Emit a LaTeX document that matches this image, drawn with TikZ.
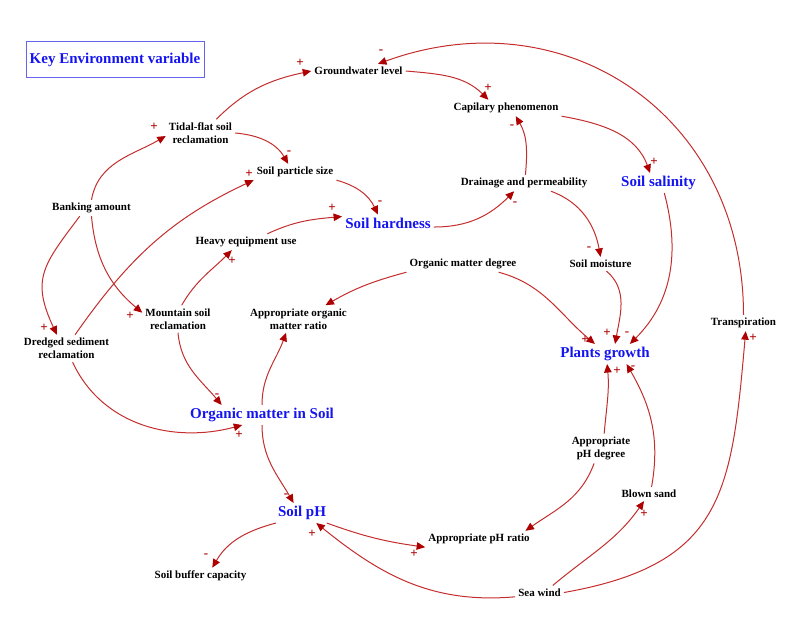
\documentclass[tikz,border=0pt]{standalone}
\usepackage{fontspec}
\setmainfont{Liberation Serif}
\usetikzlibrary{arrows.meta}
\definecolor{linered}{RGB}{196,45,45}
\definecolor{tipred}{RGB}{175,0,0}
\definecolor{keyblue}{RGB}{20,20,240}
\definecolor{boxblue}{RGB}{100,100,240}
\begin{document}
\begin{tikzpicture}[x=1pt,y=1pt,
  txt/.style={font=\fontsize{11}{13.4}\selectfont\bfseries, text=black, inner sep=3pt, align=center},
  kv/.style={font=\fontsize{15}{18}\selectfont\bfseries, text=keyblue, inner sep=3pt},
  cl/.style={draw=linered, line width=1pt, -{Triangle[length=8.5pt,width=7.5pt,color=tipred]}},
  sg/.style={font=\fontsize{13}{13}\selectfont\bfseries, text=tipred, inner sep=0pt}]
\useasboundingbox (0,0) rectangle (800,624);

% legend box
\node[kv, draw=boxblue, line width=1pt, minimum width=178pt, minimum height=36pt] (key) at (115,564) {Key Environment variable};

% variables
\node[txt] (gw) at (358.5,553) {Groundwater level};
\node[txt] (cap) at (506,516) {Capilary phenomenon};
\node[txt] (tf) at (200.5,491) {Tidal-flat soil\\reclamation};
\node[txt] (sps) at (295,452) {Soil particle size};
\node[kv] (hard) at (388,401) {Soil hardness};
\node[txt] (dr) at (524,441) {Drainage and permeability};
\node[kv] (sal) at (658.5,441) {Soil salinity};
\node[txt] (ba) at (91.5,416) {Banking amount};
\node[txt] (he) at (246,382) {Heavy equipment use};
\node[txt] (omd) at (463,360) {Organic matter degree};
\node[txt] (sm) at (600.5,360) {Soil moisture};
\node[txt] (ms) at (178,305) {Mountain soil\\reclamation};
\node[txt] (aomr) at (298.5,305) {Appropriate organic\\matter ratio};
\node[txt] (ds) at (66.5,275.5) {Dredged sediment\\reclamation};
\node[txt] (tp) at (743.5,301) {Transpiration};
\node[kv] (pg) at (605,270) {Plants growth};
\node[kv] (oms) at (262,209) {Organic matter in Soil};
\node[txt] (apd) at (601,175.5) {Appropriate\\pH degree};
\node[txt] (bs) at (649,130) {Blown sand};
\node[kv] (ph) at (302,111) {Soil pH};
\node[txt] (apr) at (479,85) {Appropriate pH ratio};
\node[txt] (sbc) at (200.5,48) {Soil buffer capacity};
\node[txt] (sw) at (539.5,31.5) {Sea wind};

% connectors
\draw[cl] (tf.41) to[out=45,in=192] (gw.west);
\draw[cl] (tp.north) to[out=90,in=20,looseness=1.15] (gw.20);
\draw[cl] (gw.east) to[out=-5,in=135] (cap.155);
\draw[cl] (cap.south east) to[out=-10,in=110] (sal.130);
\draw[cl] (dr.80) to[out=85,in=-60] (cap.-40);
\draw[cl] (hard.-5) to[out=0,in=225] (dr.220);
\draw[cl] (dr.-17) to[out=-20,in=100] (sm.north);
\draw[cl] (sal.-60) to[out=-75,in=45] (pg.22);
\draw[cl] (sm.-50) to[out=-40,in=80] (pg.45);
\draw[cl] (omd.-13) to[out=-15,in=140] (pg.135);
\draw[cl] (omd.south west) to[out=195,in=30] (aomr.27);
\draw[cl] (oms.north) to[out=90,in=-110] (aomr.-132);
\draw[cl] (oms.south) to[out=-90,in=120] (ph.130);
\draw[cl] (ba.north) to[out=80,in=210] (tf.185);
\draw[cl] (ba.215) to[out=233,in=115,looseness=1.3] (ds.125);
\draw[cl] (ba.south) to[out=-85,in=140] (ms.170);
\draw[cl] (tf.east) to[out=-5,in=120] (sps.130);
\draw[cl] (sps.south east) to[out=-15,in=115] (hard.140);
\draw[cl] (he.21) to[out=25,in=185] (hard.172);
\draw[cl] (ds.58) to[out=55,in=205] (sps.south west);
\draw[cl] (ms.75) to[out=60,in=225] (he.-150);
\draw[cl] (ms.south) to[out=-85,in=130] (oms.166);
\draw[cl] (ds.-66) to[out=-65,in=195] (oms.-153);
\draw[cl] (ph.201) to[out=195,in=60] (sbc.35);
\draw[cl] (ph.-22) to[out=-20,in=172] (apr.south west);
\draw[cl] (sw.190) to[out=185,in=-39] (ph.-35);
\draw[cl] (apd.-115) to[out=-110,in=35] (apr.10);
\draw[cl] (apd.78) to[out=85,in=-85] (pg.-78);
\draw[cl] (bs.70) to[out=80,in=-60] (pg.-25);
\draw[cl] (sw.28) to[out=40,in=235] (bs.-125);
\draw[cl] (sw.east) to[out=10,in=-95,looseness=1.3] (tp.-75);

% polarity signs
\node[sg] (p1) at (300,561) {+};
\node[sg] (p2) at (381,572) {-};
\node[sg] (p3) at (488,536) {+};
\node[sg] (p4) at (654,462) {+};
\node[sg] (p5) at (512,497) {-};
\node[sg] (p6) at (515,420) {-};
\node[sg] (p7) at (589,375) {-};
\node[sg] (p8) at (627,290) {-};
\node[sg] (p9) at (607,291) {+};
\node[sg] (p10) at (585,284) {+};
\node[sg] (p13) at (286,128) {-};
\node[sg] (p14) at (154,497) {+};
\node[sg] (p15) at (44,296) {+};
\node[sg] (p16) at (130,308) {+};
\node[sg] (p17) at (289,471) {-};
\node[sg] (p18) at (380,421) {-};
\node[sg] (p19) at (332,416) {+};
\node[sg] (p20) at (249,450) {+};
\node[sg] (p21) at (232,363) {+};
\node[sg] (p22) at (217,228) {-};
\node[sg] (p23) at (239,189) {+};
\node[sg] (p24) at (206,68) {-};
\node[sg] (p25) at (414,70) {+};
\node[sg] (p26) at (312,90) {+};
\node[sg] (p28) at (617,253) {+};
\node[sg] (p29) at (633,256) {-};
\node[sg] (p30) at (644,110) {+};
\node[sg] (p31) at (753,286) {+};
\end{tikzpicture}
\end{document}
